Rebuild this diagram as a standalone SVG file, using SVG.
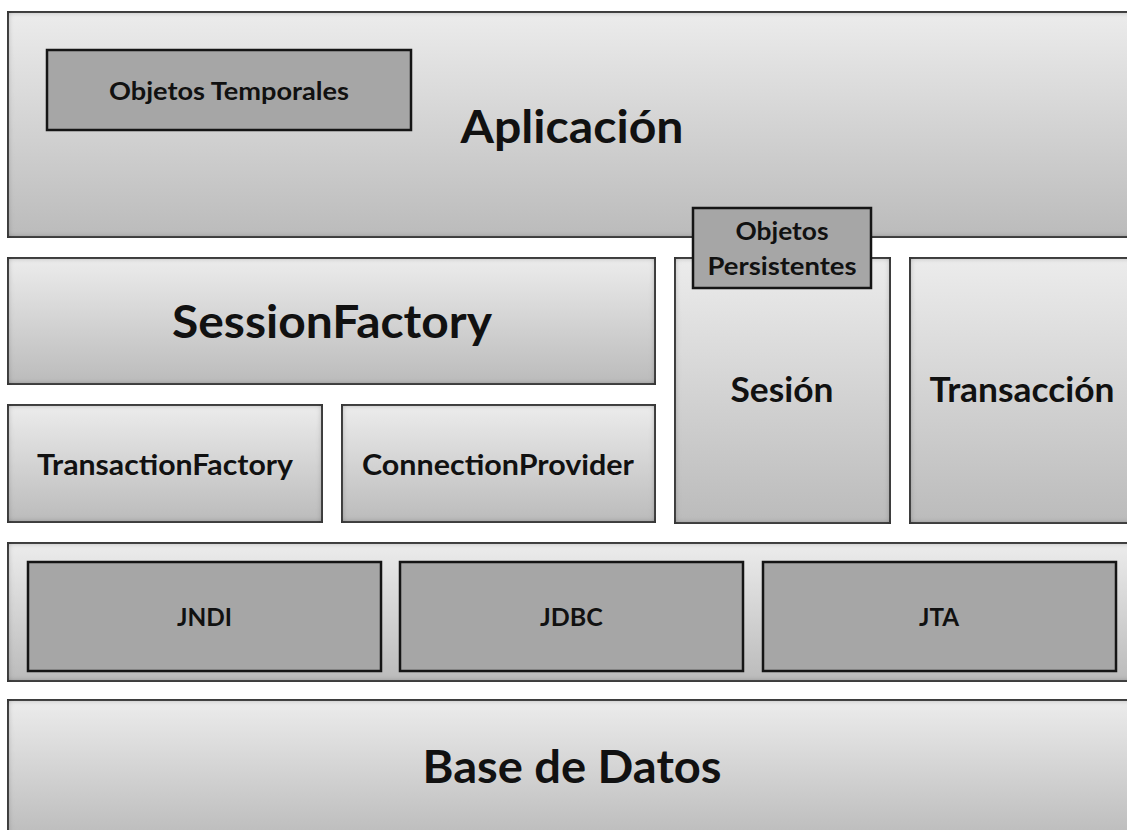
<svg xmlns="http://www.w3.org/2000/svg" width="1127" height="830" viewBox="0 0 1127 830">
  <defs>
    <linearGradient id="g" x1="0" y1="0" x2="0" y2="1">
      <stop offset="0" stop-color="#ececec"/>
      <stop offset="1" stop-color="#bbbbbb"/>
    </linearGradient>
    <filter id="inset" x="-5%" y="-5%" width="110%" height="110%">
      <feFlood flood-color="#000" flood-opacity="0.8"/>
      <feComposite in2="SourceAlpha" operator="out"/>
      <feGaussianBlur stdDeviation="3"/>
      <feComposite in2="SourceAlpha" operator="in"/>
      <feMerge><feMergeNode in="SourceGraphic"/><feMergeNode/></feMerge>
    </filter>
  </defs>
  <style>
    .box { fill: url(#g); stroke: #4e4e4e; stroke-width: 2; }
    .dark { fill: #a6a6a6; stroke: #151515; stroke-width: 2.5; }
    text { font-family: Lato, "Liberation Sans", sans-serif; font-weight: bold; fill: #111; text-anchor: middle; }
    .xl { font-size: 45px; }
    .l { font-size: 34px; }
    .m { font-size: 28px; }
    .s { font-size: 24px; }
    .xs { font-size: 25px; }
  </style>
  <rect width="1127" height="830" fill="#ffffff"/>

  <g id="aplicacion">
    <rect class="box" x="8" y="12" width="1128" height="225" filter="url(#inset)"/>
    <text class="xl" x="572" y="143" textLength="223" lengthAdjust="spacingAndGlyphs">Aplicación</text>
  </g>
  <g id="objetos-temporales">
    <rect class="dark" x="47" y="50" width="364" height="80"/>
    <text class="s" x="229" y="100" textLength="240" lengthAdjust="spacingAndGlyphs">Objetos Temporales</text>
  </g>
  <g id="sessionfactory">
    <rect class="box" x="8" y="258" width="647" height="126" filter="url(#inset)"/>
    <text class="xl" x="332" y="338" textLength="320" lengthAdjust="spacingAndGlyphs">SessionFactory</text>
  </g>
  <g id="transactionfactory">
    <rect class="box" x="8" y="405" width="314" height="117" filter="url(#inset)"/>
    <text class="m" x="165" y="475" textLength="256" lengthAdjust="spacingAndGlyphs">TransactionFactory</text>
  </g>
  <g id="connectionprovider">
    <rect class="box" x="342" y="405" width="313" height="117" filter="url(#inset)"/>
    <text class="m" x="498" y="475" textLength="272" lengthAdjust="spacingAndGlyphs">ConnectionProvider</text>
  </g>
  <g id="sesion">
    <rect class="box" x="675" y="258" width="215" height="265" filter="url(#inset)"/>
    <text class="l" x="782" y="402" textLength="103" lengthAdjust="spacingAndGlyphs">Sesión</text>
  </g>
  <g id="objetos-persistentes">
    <rect class="dark" x="693" y="208" width="178" height="80"/>
    <text class="s" x="782" y="240" textLength="93" lengthAdjust="spacingAndGlyphs">Objetos</text>
    <text class="s" x="782" y="275" textLength="149" lengthAdjust="spacingAndGlyphs">Persistentes</text>
  </g>
  <g id="transaccion">
    <rect class="box" x="910" y="258" width="226" height="265" filter="url(#inset)"/>
    <text class="l" x="1022" y="402" textLength="185" lengthAdjust="spacingAndGlyphs">Transacción</text>
  </g>
  <g id="apis">
    <rect class="box" x="8" y="543" width="1128" height="138" filter="url(#inset)"/>
  </g>
  <g id="jndi">
    <rect class="dark" x="28" y="562" width="353" height="109"/>
    <text class="xs" x="204.5" y="626" textLength="55" lengthAdjust="spacingAndGlyphs">JNDI</text>
  </g>
  <g id="jdbc">
    <rect class="dark" x="400" y="562" width="343" height="109"/>
    <text class="xs" x="571.5" y="626">JDBC</text>
  </g>
  <g id="jta">
    <rect class="dark" x="763" y="562" width="353" height="109"/>
    <text class="xs" x="939" y="626" textLength="40" lengthAdjust="spacingAndGlyphs">JTA</text>
  </g>
  <g id="base-de-datos">
    <rect class="box" x="8" y="700" width="1128" height="140" filter="url(#inset)"/>
    <text class="xl" x="572" y="783" textLength="299" lengthAdjust="spacingAndGlyphs">Base de Datos</text>
  </g>
  <g id="connectors"/>
</svg>
